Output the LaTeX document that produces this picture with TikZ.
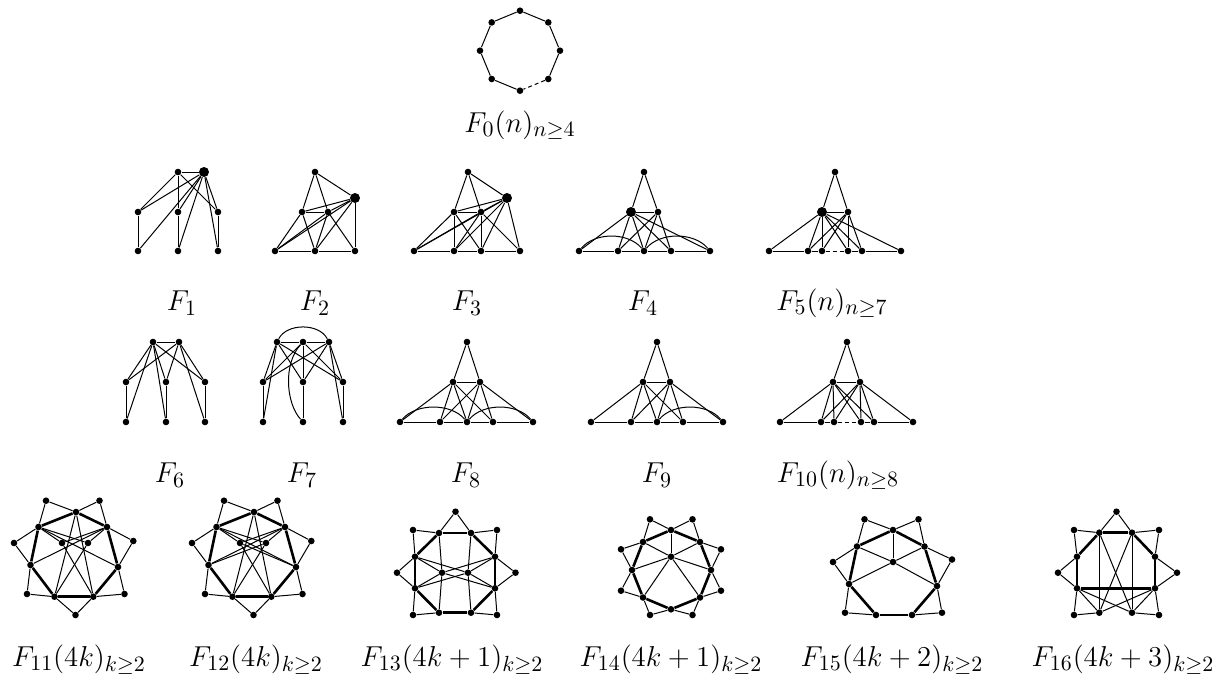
\documentclass[tikz,border=0pt]{standalone}
\usetikzlibrary{calc}
\begin{document}
\begin{tikzpicture}[x=0.5pt,y=-0.5pt,
  v/.style={circle,fill=black,inner sep=0pt,minimum size=3.3pt},
  bv/.style={circle,fill=black,inner sep=0pt,minimum size=5pt},
  ed/.style={line width=0.5pt},
  th/.style={line width=1.3pt},
  dsh/.style={line width=0.5pt,dash pattern=on 2pt off 1.5pt},
  lab/.style={font=\fontsize{15.5}{18}\selectfont,inner sep=0pt}]
\useasboundingbox (0,0) rectangle (1216,681);
% ---------- F0
\foreach \i/\a in {1/-90,2/-45,3/0,4/45,5/90,6/135,7/180,8/225}
  \node[v] (o\i) at ($(520,50.7)+(\a:40)$) {};
\foreach \a/\b in {1/2,2/3,3/4,5/6,6/7,7/8,8/1} \draw[ed] (o\a) -- (o\b);
\draw[dsh] (o4) -- (o5);
\node[lab] (l0) at (520,125) {$F_0(n)_{n\geq 4}$};
% ---------- F1
\node[v] (f1t1) at (178,172) {}; \node[bv] (f1t2) at (204,172) {};
\node[v] (f1m1) at (138,212) {}; \node[v] (f1m2) at (178,212) {}; \node[v] (f1m3) at (218,212) {};
\node[v] (f1b1) at (138,251) {}; \node[v] (f1b2) at (178,251) {}; \node[v] (f1b3) at (218,251) {};
\foreach \a/\b in {t1/t2,t1/m1,t1/m2,t1/m3,t2/m1,t2/m2,t2/m3,t2/b1,t2/b2,t2/b3,m1/b1,m2/b2,m3/b3}
  \draw[ed] (f1\a) -- (f1\b);
\node[lab] (l1) at (182,303) {$F_1$};
% ---------- F2
\node[v] (f2t) at (315,172) {}; \node[bv] (f2g) at (355,198) {};
\node[v] (f2m1) at (302,212) {}; \node[v] (f2m2) at (328,212) {};
\node[v] (f2b1) at (275,251) {}; \node[v] (f2b2) at (315,251) {}; \node[v] (f2b3) at (355,251) {};
\foreach \a/\b in {t/m1,t/m2,t/g,m1/m2,m1/g,m2/g,g/b3,g/b1,g/b2,m1/b1,m1/b2,m2/b1,m2/b2,m2/b3,b1/b2,b2/b3}
  \draw[ed] (f2\a) -- (f2\b);
\node[lab] (l2) at (315,303) {$F_2$};
% ---------- F3
\node[v] (f3t) at (468,172) {}; \node[bv] (f3g) at (507,198) {};
\node[v] (f3m1) at (454,212) {}; \node[v] (f3m2) at (481,212) {};
\node[v] (f3b1) at (414,251) {}; \node[v] (f3b2) at (454,251) {}; \node[v] (f3b3) at (481,251) {}; \node[v] (f3b4) at (520,251) {};
\foreach \a/\b in {t/m1,t/m2,t/g,m1/m2,m1/g,m2/g,m1/b2,m2/b3,b1/m1,b1/m2,b1/g,m1/b3,m2/b2,g/b2,g/b3,g/b4,m2/b4,b1/b2,b2/b3,b3/b4}
  \draw[ed] (f3\a) -- (f3\b);
\node[lab] (l3) at (467,303) {$F_3$};
% ---------- F4
\node[v] (f4t) at (644,172) {}; \node[bv] (f4g) at (631,212) {}; \node[v] (f4m) at (658,212) {};
\node[v] (f4b1) at (579,251) {}; \node[v] (f4b2) at (618,251) {}; \node[v] (f4b3) at (644,251) {};
\node[v] (f4b4) at (671,251) {}; \node[v] (f4b5) at (710,251) {};
\foreach \a/\b in {t/g,t/m,g/m,g/b1,g/b2,g/b3,g/b4,g/b5,m/b2,m/b3,m/b4,b1/b2,b2/b3,b3/b4,b4/b5}
  \draw[ed] (f4\a) -- (f4\b);
\draw[ed] (f4b1) .. controls +(16,-19) and +(-16,-19) .. (f4b3);
\draw[ed] (f4b3) .. controls +(16,-19) and +(-16,-19) .. (f4b5);
\node[lab] (l4) at (643,303) {$F_4$};
% ---------- F5
\node[v] (f5t) at (835,172) {}; \node[bv] (f5g) at (822,212) {}; \node[v] (f5m) at (848,212) {};
\node[v] (f5b1) at (769,251) {}; \node[v] (f5b2) at (808,251) {}; \node[v] (f5b3) at (822,251) {};
\node[v] (f5b4) at (848,251) {}; \node[v] (f5b5) at (862,251) {}; \node[v] (f5b6) at (901,251) {};
\foreach \a/\b in {t/g,t/m,g/m,g/b1,g/b2,g/b3,g/b4,g/b5,g/b6,m/b2,m/b3,m/b4,m/b5,b1/b2,b2/b3,b4/b5,b5/b6}
  \draw[ed] (f5\a) -- (f5\b);
\draw[dsh] (f5b3) -- (f5b4);
\node[lab] (l5) at (832,303) {$F_5(n)_{n\geq 7}$};
% ---------- F6
\node[v] (f6t1) at (153,342) {}; \node[v] (f6t2) at (179,342) {};
\node[v] (f6m1) at (126,382) {}; \node[v] (f6m2) at (166,382) {}; \node[v] (f6m3) at (205,382) {};
\node[v] (f6b1) at (126,422) {}; \node[v] (f6b2) at (166,422) {}; \node[v] (f6b3) at (205,422) {};
\foreach \a/\b in {t1/t2,t1/m1,t1/m2,t1/m3,t2/m1,t2/m2,t2/m3,m1/b1,m2/b2,m3/b3,t1/b1,t1/b2,t2/b3}
  \draw[ed] (f6\a) -- (f6\b);
\node[lab] (l6) at (170,475) {$F_6$};
% ---------- F7
\node[v] (f7t1) at (277,342) {}; \node[v] (f7t2) at (303,342) {}; \node[v] (f7t3) at (329,342) {};
\node[v] (f7m1) at (263,382) {}; \node[v] (f7m2) at (303,382) {}; \node[v] (f7m3) at (343,382) {};
\node[v] (f7b1) at (263,422) {}; \node[v] (f7b2) at (303,422) {}; \node[v] (f7b3) at (343,422) {};
\foreach \a/\b in {t1/t2,t2/t3,t1/m1,t1/m2,t1/m3,t2/m1,t2/m2,t2/m3,t3/m1,t3/m2,t3/m3,m1/b1,m2/b2,m3/b3,t1/b1,t3/b3}
  \draw[ed] (f7\a) -- (f7\b);
\draw[ed] (f7t1) .. controls +(10,-19) and +(-10,-19) .. (f7t3);
\draw[ed] (f7t2) .. controls +(-20,22) and +(-17,-19) .. (f7b2);
\node[lab] (l7) at (302,475) {$F_7$};
% ---------- F8
\node[v] (f8t) at (467,342) {}; \node[v] (f8m1) at (453,382) {}; \node[v] (f8m2) at (480,382) {};
\node[v] (f8b1) at (400,422) {}; \node[v] (f8b2) at (440,422) {}; \node[v] (f8b3) at (467,422) {};
\node[v] (f8b4) at (493,422) {}; \node[v] (f8b5) at (533,422) {};
\foreach \a/\b in {t/m1,t/m2,m1/m2,m1/b1,m1/b2,m1/b3,m1/b4,m2/b2,m2/b3,m2/b4,m2/b5,b1/b2,b2/b3,b3/b4,b4/b5}
  \draw[ed] (f8\a) -- (f8\b);
\draw[ed] (f8b1) .. controls +(16,-19) and +(-16,-19) .. (f8b3);
\draw[ed] (f8b3) .. controls +(16,-19) and +(-16,-19) .. (f8b5);
\node[lab] (l8) at (466,475) {$F_8$};
% ---------- F9
\node[v] (f9t) at (657,342) {}; \node[v] (f9m1) at (643,382) {}; \node[v] (f9m2) at (670,382) {};
\node[v] (f9b1) at (591,422) {}; \node[v] (f9b2) at (631,422) {}; \node[v] (f9b3) at (657,422) {};
\node[v] (f9b4) at (683,422) {}; \node[v] (f9b5) at (723,422) {};
\foreach \a/\b in {t/m1,t/m2,m1/m2,m1/b1,m1/b2,m1/b3,m1/b4,m2/b2,m2/b3,m2/b4,m2/b5,b1/b2,b2/b3,b3/b4,b4/b5}
  \draw[ed] (f9\a) -- (f9\b);
\draw[ed] (f9b3) .. controls +(16,-19) and +(-16,-19) .. (f9b5);
\node[lab] (l9) at (657,475) {$F_9$};
% ---------- F10
\node[v] (fat) at (847,342) {}; \node[v] (fam1) at (833,382) {}; \node[v] (fam2) at (860,382) {};
\node[v] (fab1) at (780,422) {}; \node[v] (fab2) at (821,422) {}; \node[v] (fab3) at (834,422) {};
\node[v] (fab4) at (861,422) {}; \node[v] (fab5) at (874,422) {}; \node[v] (fab6) at (913,422) {};
\foreach \a/\b in {t/m1,t/m2,m1/m2,m1/b1,m1/b2,m1/b3,m1/b4,m1/b5,m2/b2,m2/b3,m2/b4,m2/b5,m2/b6,b1/b2,b2/b3,b4/b5,b5/b6}
  \draw[ed] (fa\a) -- (fa\b);
\draw[dsh] (fab3) -- (fab4);
\node[lab] (l10) at (838,475) {$F_{10}(n)_{n\geq 8}$};
% ---------- F11 / F12
\foreach \g/\dx in {p/0,q/178}{
  \begin{scope}[xshift=\dx*0.5pt]
  \node[v] (\g A) at (76,512) {};   \node[v] (\g P) at (38.5,527) {}; \node[v] (\g Q) at (107,527) {};
  \node[v] (\g I) at (62,543) {};   \node[v] (\g J) at (88,543) {};
  \node[v] (\g R) at (30.5,565) {}; \node[v] (\g S) at (118,567) {};
  \node[v] (\g U) at (54.5,596.7) {}; \node[v] (\g W) at (93.3,596.7) {};
  \node[v] (\g e1) at (46,500.7) {};  \node[v] (\g e2) at (99.5,500.7) {};
  \node[v] (\g e3) at (14,543) {};    \node[v] (\g e4) at (133.3,541) {};
  \node[v] (\g e5) at (27,594) {};    \node[v] (\g e6) at (124.5,594) {};
  \node[v] (\g e7) at (75.5,615) {};
  \end{scope}
  \foreach \a/\b in {A/P,A/Q,P/R,Q/S,R/U,S/W,U/W} \draw[th] (\g\a) -- (\g\b);
  \foreach \e/\a/\b in {1/A/P,2/A/Q,3/P/R,4/Q/S,5/R/U,6/S/W,7/U/W}
    {\draw[ed] (\g e\e) -- (\g\a); \draw[ed] (\g e\e) -- (\g\b);}
  \foreach \a/\b in {P/I,P/J,Q/I,Q/J,P/S,Q/R,A/U,A/W,I/W,J/U} \draw[ed] (\g\a) -- (\g\b);
}
\foreach \a/\b in {R/J,S/I} \draw[ed] (q\a) -- (q\b);
% ---------- F13
\node[v] (rT1) at (439,533) {}; \node[v] (rT2) at (471,533) {};
\node[v] (rR1) at (495,556.7) {}; \node[v] (rR2) at (495,588.3) {};
\node[v] (rB2) at (471,612.7) {}; \node[v] (rB1) at (439,612.7) {};
\node[v] (rL2) at (415,588.3) {}; \node[v] (rL1) at (415,556.7) {};
\node[v] (rI) at (442,572.7) {}; \node[v] (rJ) at (468,572.7) {};
\node[v] (re1) at (455.5,511.7) {}; \node[v] (re2) at (413,530) {}; \node[v] (re3) at (497,530) {};
\node[v] (re4) at (397,572.7) {}; \node[v] (re5) at (515.5,572.7) {};
\node[v] (re6) at (413,615) {}; \node[v] (re7) at (497,615) {};
\foreach \a/\b in {T1/T2,T2/R1,R1/R2,R2/B2,B2/B1,B1/L2,L2/L1,L1/T1} \draw[th] (r\a) -- (r\b);
\foreach \e/\a/\b in {1/T1/T2,2/T1/L1,3/T2/R1,4/L1/L2,5/R1/R2,6/L2/B1,7/R2/B2}
  {\draw[ed] (re\e) -- (r\a); \draw[ed] (re\e) -- (r\b);}
\foreach \a/\b in {T1/I,I/B1,T2/J,J/B2,L1/J,R1/I,L2/J,R2/I,L1/I,R1/J,L2/I,R2/J} \draw[ed] (r\a) -- (r\b);
% ---------- F14
\node[v] (sA) at (671,530) {}; \node[v] (sP) at (643,542) {}; \node[v] (sQ) at (700,542) {};
\node[v] (sR) at (632,570) {}; \node[v] (sS) at (711,570) {};
\node[v] (sU) at (643,597.5) {}; \node[v] (sW) at (700,597.5) {}; \node[v] (sZ) at (671,609.3) {};
\node[v] (sI) at (671,556.7) {};
\node[v] (se1) at (650,519.3) {}; \node[v] (se2) at (692.5,519.3) {};
\node[v] (se3) at (621,549.3) {}; \node[v] (se4) at (721,549.3) {};
\node[v] (se5) at (621,590.7) {}; \node[v] (se6) at (721,590.7) {};
\node[v] (se7) at (650,615) {}; \node[v] (se8) at (692.5,615) {};
\foreach \a/\b in {A/P,A/Q,P/R,Q/S,R/U,S/W,U/Z,W/Z} \draw[th] (s\a) -- (s\b);
\foreach \e/\a/\b in {1/A/P,2/A/Q,3/P/R,4/Q/S,5/R/U,6/S/W,7/U/Z,8/W/Z}
  {\draw[ed] (se\e) -- (s\a); \draw[ed] (se\e) -- (s\b);}
\foreach \a/\b in {I/A,I/P,I/Q,I/R,I/S,I/U,I/W} \draw[ed] (s\a) -- (s\b);
% ---------- F15
\node[v] (uA) at (893,530) {}; \node[v] (uP) at (857,546.5) {}; \node[v] (uQ) at (924.5,546.5) {};
\node[v] (uR) at (849,584) {}; \node[v] (uS) at (937,586) {};
\node[v] (uU) at (876,615) {}; \node[v] (uW) at (912,615) {};
\node[v] (uI) at (893,562) {};
\node[v] (ue1) at (864.5,519.3) {}; \node[v] (ue2) at (918.5,519.3) {};
\node[v] (ue3) at (833,562) {}; \node[v] (ue4) at (952,559.5) {};
\node[v] (ue5) at (845,612.7) {}; \node[v] (ue6) at (942,612.7) {};
\foreach \a/\b in {A/P,A/Q,P/R,Q/S,R/U,S/W,U/W} \draw[th] (u\a) -- (u\b);
\foreach \e/\a/\b in {1/A/P,2/A/Q,3/P/R,4/Q/S,5/R/U,6/S/W}
  {\draw[ed] (ue\e) -- (u\a); \draw[ed] (ue\e) -- (u\b);}
\foreach \a/\b in {I/A,I/P,I/Q,I/R,I/S} \draw[ed] (u\a) -- (u\b);
% ---------- F16
\node[v] (wT1) at (1099.3,532.7) {}; \node[v] (wT2) at (1132,532.7) {};
\node[v] (wR1) at (1155,556.7) {}; \node[v] (wR2) at (1155,588.3) {};
\node[v] (wL2) at (1077,588.3) {}; \node[v] (wL1) at (1077,556.7) {};
\node[v] (wB1) at (1099.3,612.7) {}; \node[v] (wB2) at (1132,612.7) {};
\node[v] (wE1) at (1074,615) {}; \node[v] (wE2) at (1159,615) {};
\node[v] (we1) at (1116.5,511.7) {}; \node[v] (we2) at (1074,530) {}; \node[v] (we3) at (1159,530) {};
\node[v] (we4) at (1058,572.7) {}; \node[v] (we5) at (1177,572.7) {};
\foreach \a/\b in {T1/T2,T2/R1,R1/R2,R2/L2,L2/L1,L1/T1} \draw[th] (w\a) -- (w\b);
\foreach \e/\a/\b in {1/T1/T2,2/T1/L1,3/T2/R1,4/L1/L2,5/R1/R2}
  {\draw[ed] (we\e) -- (w\a); \draw[ed] (we\e) -- (w\b);}
\foreach \a/\b in {T1/B1,T2/B2,T1/B2,T2/B1,L2/E1,R2/E2,E1/B1,E2/B2,L2/B1,L2/B2,R2/B1,R2/B2} \draw[ed] (w\a) -- (w\b);
% ---------- labels row 4
\node[lab] (l11) at (79,660) {$F_{11}(4k)_{k\geq 2}$};
\node[lab] (l12) at (256,660) {$F_{12}(4k)_{k\geq 2}$};
\node[lab] (l13) at (452,660) {$F_{13}(4k+1)_{k\geq 2}$};
\node[lab] (l14) at (671,660) {$F_{14}(4k+1)_{k\geq 2}$};
\node[lab] (l15) at (892,660) {$F_{15}(4k+2)_{k\geq 2}$};
\node[lab] (l16) at (1123,660) {$F_{16}(4k+3)_{k\geq 2}$};
\end{tikzpicture}
\end{document}
